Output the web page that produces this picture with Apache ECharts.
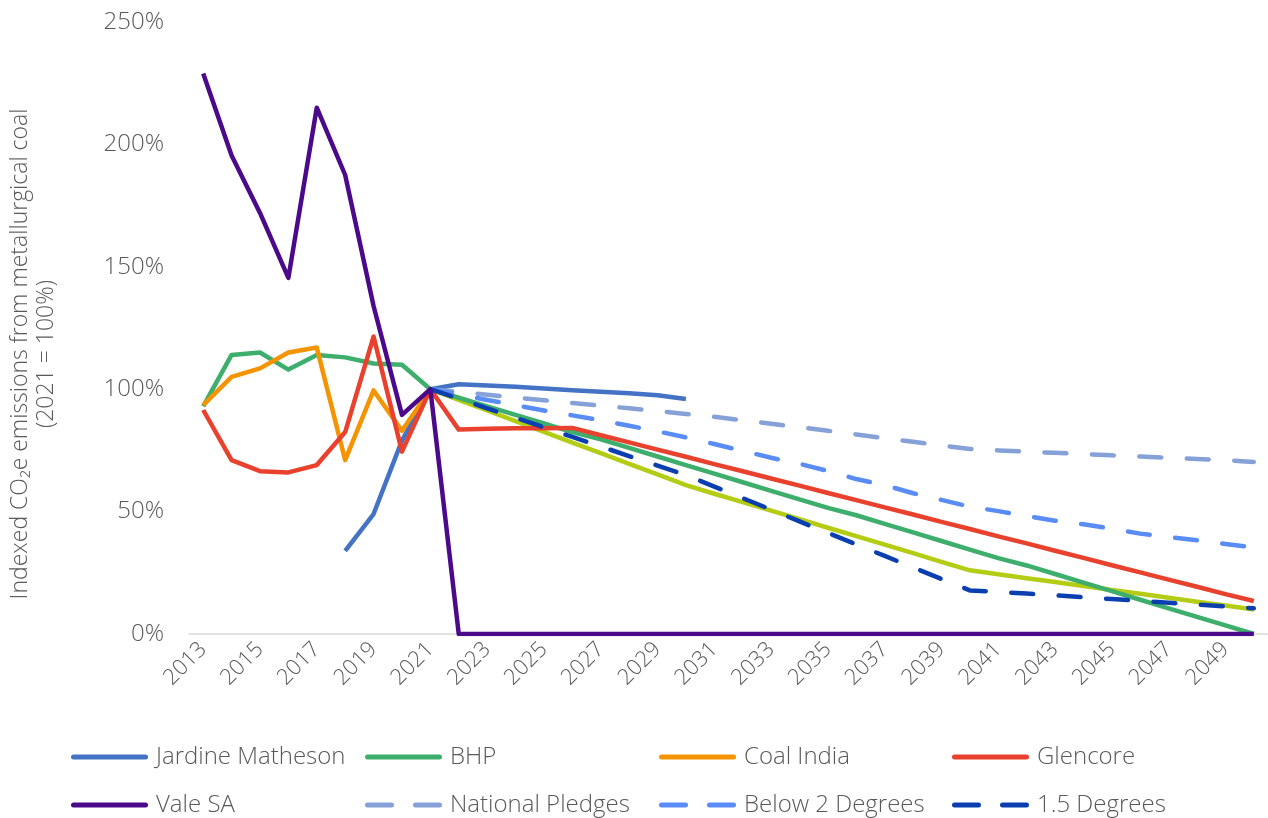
<!DOCTYPE html>
<html>
<head>
<meta charset="utf-8">
<script src="https://cdn.jsdelivr.net/npm/echarts@6/dist/echarts.min.js"></script>
<style>
  html, body { margin: 0; padding: 0; background: #fff; }
  #chart { width: 1268px; height: 818px; }
</style>
</head>
<body>
<div id="chart"></div>
<script>
const years = [
  '2013', '2014', '2015', '2016', '2017', '2018', '2019', '2020', '2021', '2022',
  '2023', '2024', '2025', '2026', '2027', '2028', '2029', '2030', '2031', '2032',
  '2033', '2034', '2035', '2036', '2037', '2038', '2039', '2040', '2041', '2042',
  '2043', '2044', '2045', '2046', '2047', '2048', '2049', '2050',
]

// indexed emissions, % of 2021
const jardine = [
  null, null, null, null, null, 34, 49, 79, 100, 102,
  101.5, 101, 100.3, 99.6, 99, 98.3, 97.5, 96, null, null,
  null, null, null, null, null, null, null, null, null, null,
  null, null, null, null, null, null, null, null,
]
const bhp = [
  93, 114, 115, 108, 114, 113, 110.5, 110, 100, 96.5,
  93, 89.5, 86, 82.5, 79.5, 76, 72.5, 69, 65.5, 62,
  58.5, 55, 51.5, 48.5, 45, 41.5, 38, 34.5, 31, 28,
  24.5, 21, 17.5, 14, 10.5, 7, 3.5, 0,
]
const coalIndia = [
  93.5, 105, 108.5, 115, 117, 71, 99.5, 83, 100, null,
  null, null, null, null, null, null, null, null, null, null,
  null, null, null, null, null, null, null, null, null, null,
  null, null, null, null, null, null, null, null,
]
const glencore = [
  91.5, 71, 66.5, 66, 69, 82.5, 121.5, 74.5, 100, 83.5,
  83.8, 84, 84, 84.2, 81.2, 78.3, 75.3, 72.4, 69.4, 66.5,
  63.5, 60.6, 57.6, 54.7, 51.7, 48.8, 45.8, 42.9, 39.9, 37,
  34, 31.1, 28.1, 25.2, 22.2, 19.3, 16.3, 13.5,
]
const vale = [
  229, 195.5, 172, 145.5, 215, 187.5, 134, 89.5, 100, 0,
  0, 0, 0, 0, 0, 0, 0, 0, 0, 0,
  0, 0, 0, 0, 0, 0, 0, 0, 0, 0,
  0, 0, 0, 0, 0, 0, 0, 0,
]
const otherPath = [
  null, null, null, null, null, null, null, null, 100, 95.6,
  91.3, 87, 82.6, 78.2, 73.9, 69.5, 65.2, 60.8, 57.3, 53.9,
  50.4, 46.9, 43.4, 40, 36.5, 33, 29.5, 26, 24.4, 22.8,
  21.2, 19.6, 18, 16.4, 14.8, 13.2, 11.6, 10,
]
const nationalPledges = [
  null, null, null, null, null, null, null, null, 100, 98.9,
  97.7, 96.6, 95.5, 94.4, 93.3, 92.2, 91.1, 89.9, 88.7, 87.3,
  85.9, 84.5, 83, 81.5, 80, 78.5, 77, 75.6, 75, 74.5,
  74, 73.5, 73, 72.5, 72, 71.5, 71, 70.3,
]
const below2 = [
  null, null, null, null, null, null, null, null, 100, 97.8,
  95.6, 93.5, 91.3, 89.3, 87.3, 85.1, 82.8, 80.3, 77.6, 74.8,
  72, 69.5, 66.6, 63.3, 60.8, 57.5, 54.8, 52, 50.2, 48.2,
  46.3, 44.8, 43, 41, 39.6, 38.3, 36.8, 35.3,
]
const deg15 = [
  null, null, null, null, null, null, null, null, 100, 96.1,
  92.2, 88.3, 84.4, 80.5, 76.6, 72.7, 68.8, 64.9, 60.2, 55.5,
  50.8, 46, 41.3, 36.6, 31.9, 27.2, 22.5, 17.8, 17.2, 16.5,
  15.8, 15, 14.3, 13.5, 12.8, 12, 11.3, 10.5,
]

const fontFamily = '"Open Sans", Lato, sans-serif'
const grey = '#595959'

// legend swatches, 77x5
const solidIcon = 'path://M2.5,0H74.5A2.5,2.5 0 0 1 74.5,5H2.5A2.5,2.5 0 0 1 2.5,0Z'
const dashIcon = 'path://M2.5,0H26.5A2.5,2.5 0 0 1 26.5,5H2.5A2.5,2.5 0 0 1 2.5,0Z'
  + 'M50.5,0H74.5A2.5,2.5 0 0 1 74.5,5H50.5A2.5,2.5 0 0 1 50.5,0Z'

function lineSeries(name, data, color, dashed) {
  return {
    name,
    type: 'line',
    data,
    symbol: 'none',
    lineStyle: {
      color,
      width: 4.5,
      type: dashed ? [22, 25.5] : 'solid',
      cap: dashed ? 'round' : 'butt',
      join: 'round',
    },
    itemStyle: { color },
  }
}

const legendSlots = [
  ['Jardine Matheson', 71, 745, false],
  ['BHP', 365, 745, false],
  ['Coal India', 659, 745, false],
  ['Glencore', 952, 745, false],
  ['Vale SA', 71, 793, false],
  ['National Pledges', 365, 793, true],
  ['Below 2 Degrees', 659, 793, true],
  ['1.5 Degrees', 952, 793, true],
]

const chart = echarts.init(document.getElementById('chart'))
chart.setOption({
  animation: false,
  textStyle: { fontFamily, color: grey },
  grid: { left: 189, right: 0, top: 22, bottom: 184, outerBoundsMode: 'none' },
  legend: legendSlots.map(([name, left, top, dashed]) => ({
    data: [{ name, icon: dashed ? dashIcon : solidIcon }],
    left,
    top,
    padding: 0,
    itemWidth: 77,
    itemHeight: 5,
    symbolKeepAspect: false,
    itemStyle: { borderWidth: 0 },
    textStyle: { fontFamily, fontSize: 24, fontWeight: 300, color: grey, padding: [0, 0, 0, 3] },
  })),
  xAxis: {
    type: 'category',
    data: years,
    boundaryGap: true,
    axisLine: { lineStyle: { color: '#d9d9d9', width: 1.5 } },
    axisTick: { show: false },
    axisLabel: {
      interval: 1,
      rotate: 45,
      fontSize: 22,
      fontWeight: 300,
      color: grey,
      margin: 12,
    },
  },
  yAxis: {
    type: 'value',
    min: 0,
    max: 250,
    interval: 50,
    name: 'Indexed CO\u2082e emissions from metallurgical coal\n(2021 = 100%)',
    nameLocation: 'middle',
    nameRotate: 90,
    nameGap: 130,
    nameTextStyle: { fontSize: 23, fontWeight: 300, color: grey, lineHeight: 26, padding: [0, 52, 0, 0] },
    axisLine: { show: false },
    axisTick: { show: false },
    splitLine: { show: false },
    axisLabel: { formatter: '{value}%', fontSize: 24, fontWeight: 300, color: grey, margin: 25 },
  },
  series: [
    lineSeries('Other pathway', otherPath, '#b4cc14', false),
    lineSeries('Jardine Matheson', jardine, '#4472c4', false),
    lineSeries('BHP', bhp, '#3dae6b', false),
    lineSeries('Coal India', coalIndia, '#f39400', false),
    lineSeries('Glencore', glencore, '#e8412e', false),
    lineSeries('National Pledges', nationalPledges, '#86a0d8', true),
    lineSeries('Below 2 Degrees', below2, '#5a8cf5', true),
    lineSeries('1.5 Degrees', deg15, '#0b3fb0', true),
    lineSeries('Vale SA', vale, '#4b0a8a', false),
  ],
})
</script>
</body>
</html>
